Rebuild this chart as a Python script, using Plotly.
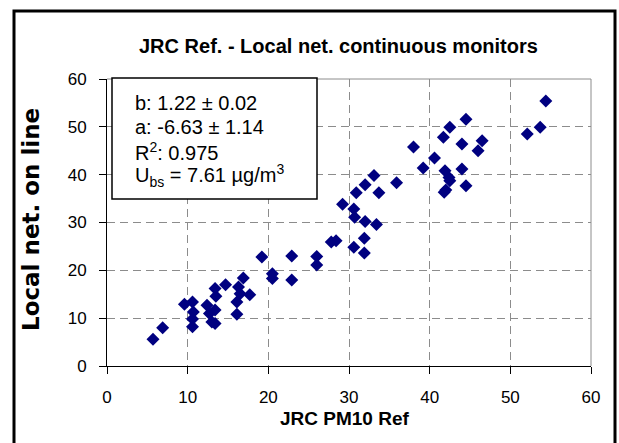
import plotly.graph_objects as go

# Data
jrc_pm10_ref = [5.7, 6.9, 9.6, 10.6, 10.7, 10.6, 10.6, 12.4, 12.7, 13.4, 13.0, 13.4,
                13.5, 13.4, 14.7, 16.9, 16.3, 16.5, 16.1, 17.7, 16.1, 19.2, 20.5, 20.5,
                22.9, 22.9, 26.0, 26.0, 27.8, 28.4, 29.2, 30.6, 30.7, 30.6, 31.9, 31.9,
                32.0, 33.4, 30.9, 32.0, 33.1, 33.7, 35.9, 38.0, 39.2, 40.6, 41.7, 42.5,
                44.5, 44.0, 46.5, 46.0, 41.9, 42.4, 42.5, 44.0, 44.5, 41.8, 42.0, 52.1,
                53.7, 54.4]
local_net_on_line = [5.6, 8.0, 12.9, 13.4, 11.3, 9.8, 8.2, 12.7, 11.0, 11.7, 9.2, 8.9,
                     14.6, 16.2, 17.0, 18.4, 16.5, 15.1, 13.4, 14.9, 10.8, 22.8, 19.3, 18.3,
                     23.0, 18.0, 22.9, 21.1, 25.9, 26.2, 33.8, 32.8, 31.1, 24.8, 26.7, 23.6,
                     30.2, 29.6, 36.2, 37.9, 39.8, 36.2, 38.3, 45.8, 41.4, 43.5, 47.8, 49.9,
                     51.6, 46.4, 47.1, 45.0, 40.8, 39.4, 38.75, 41.2, 37.7, 36.3, 36.8, 48.5,
                     49.9, 55.4]
tick_values = [0, 10, 20, 30, 40, 50, 60]

title_text = "JRC Ref. - Local net. continuous monitors"
x_title = "JRC PM10 Ref"
y_title = "Local net. on line"
stats_lines = ["b: 1.22 ± 0.02", "a: -6.63 ± 1.14", "R<sup>2</sup>: 0.975",
               "U<sub>bs</sub> = 7.61 µg/m<sup>3</sup>"]

W, H = 619, 443
L, R, T, B = 107, 591, 79, 366


def px(p):
    return (p - L) / (R - L)


def py(p):
    return (B - p) / (B - T)


FONT = "Liberation Sans, Arial, sans-serif"

fig = go.Figure()
fig.add_trace(go.Scatter(
    x=jrc_pm10_ref, y=local_net_on_line, mode="markers",
    marker=dict(symbol="diamond", size=10, color="#000080", line=dict(width=0)),
    showlegend=False, cliponaxis=False))

axis_common = dict(
    range=[0, 60], tickvals=tick_values, showline=True, linecolor="black", linewidth=1,
    ticks="outside", ticklen=7, tickcolor="black", tickwidth=1,
    showgrid=True, gridcolor="#8c8c8c", gridwidth=1, griddash="8px,5px",
    zeroline=False, tickfont=dict(family=FONT, size=17, color="black"),
    fixedrange=True)

fig.update_layout(
    width=W, height=H,
    margin=dict(l=L, r=W - R, t=T, b=H - B),
    paper_bgcolor="white", plot_bgcolor="white",
    xaxis=dict(**axis_common, ticklabelstandoff=9),
    yaxis=dict(**axis_common, ticklabelstandoff=9),
    showlegend=False,
)

shapes = [
    # outer chart border
    dict(type="rect", xref="paper", yref="paper", x0=px(14), x1=px(615), y0=py(11), y1=py(470),
         line=dict(color="black", width=3), layer="above"),
    # plot area top/right border
    dict(type="line", xref="paper", yref="paper", x0=0, x1=1, y0=1, y1=1,
         line=dict(color="#8c8c8c", width=1), layer="below"),
    dict(type="line", xref="paper", yref="paper", x0=1, x1=1, y0=0, y1=1,
         line=dict(color="#8c8c8c", width=1), layer="below"),
    # statistics box
    dict(type="rect", xref="paper", yref="paper", x0=px(112), x1=px(317), y0=py(78), y1=py(199),
         line=dict(color="black", width=1.5), fillcolor="white", layer="above"),
]
fig.update_layout(shapes=shapes)

annotations = [
    dict(text="<b>" + title_text + "</b>", x=px(338), y=py(46), xref="paper", yref="paper",
         showarrow=False, xanchor="center", yanchor="middle",
         font=dict(family=FONT, size=20, color="black")),
    dict(text="<b>" + x_title + "</b>", x=px(344), y=py(418), xref="paper", yref="paper",
         showarrow=False, xanchor="center", yanchor="middle",
         font=dict(family=FONT, size=19, color="black")),
    dict(text="<b>" + y_title + "</b>", x=px(31), y=py(220), xref="paper", yref="paper",
         showarrow=False, xanchor="center", yanchor="middle", textangle=-90,
         font=dict(family="DejaVu Sans, sans-serif", size=23, color="black")),
]
line_y = [103, 127, 151, 175]
for txt, yy in zip(stats_lines, line_y):
    annotations.append(dict(text=txt, x=px(133), y=py(yy), xref="paper", yref="paper",
                            showarrow=False, xanchor="left", yanchor="middle",
                            font=dict(family=FONT, size=20, color="black")))
fig.update_layout(annotations=annotations)

fig.write_html("out.html")
